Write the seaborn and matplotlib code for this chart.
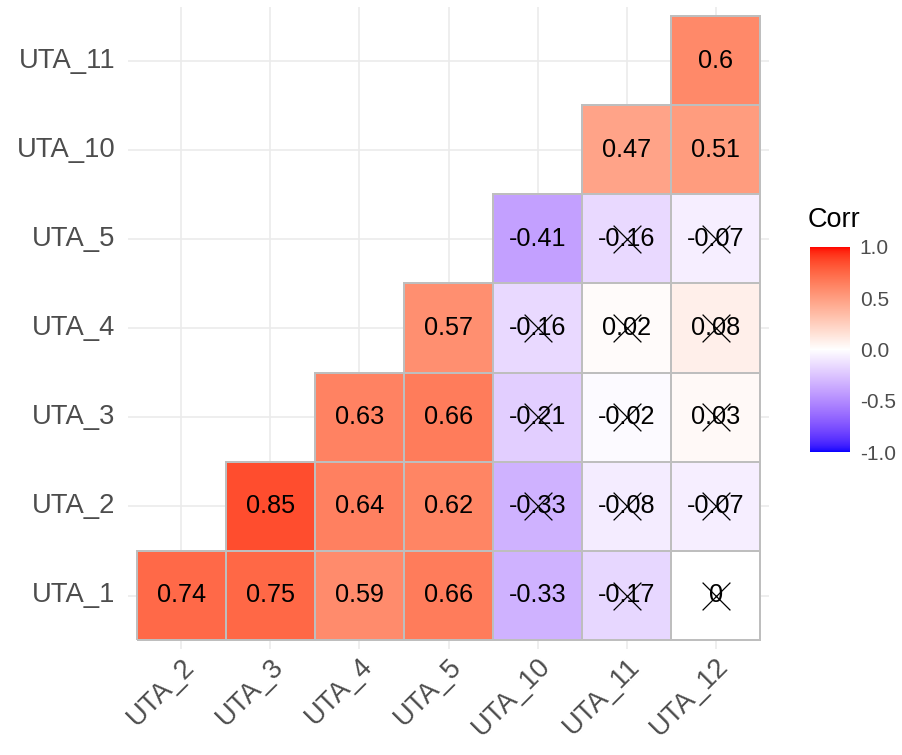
import numpy as np
import pandas as pd
import matplotlib
matplotlib.use("Agg")
import matplotlib.pyplot as plt
from matplotlib.colors import ListedColormap
import seaborn as sns

# ---------------- data ----------------
row_labels = ["UTA_1", "UTA_2", "UTA_3", "UTA_4", "UTA_5", "UTA_10", "UTA_11"]
col_labels = ["UTA_2", "UTA_3", "UTA_4", "UTA_5", "UTA_10", "UTA_11", "UTA_12"]
nan = np.nan
corr_uta1 = [0.74, 0.75, 0.59, 0.66, -0.33, -0.17, 0.00]
corr_uta2 = [nan, 0.85, 0.64, 0.62, -0.33, -0.08, -0.07]
corr_uta3 = [nan, nan, 0.63, 0.66, -0.21, -0.02, 0.03]
corr_uta4 = [nan, nan, nan, 0.57, -0.16, 0.02, 0.08]
corr_uta5 = [nan, nan, nan, nan, -0.41, -0.16, -0.07]
corr_uta10 = [nan, nan, nan, nan, nan, 0.47, 0.51]
corr_uta11 = [nan, nan, nan, nan, nan, nan, 0.60]
# 1 = not significant (crossed out)
insig_uta1 = [0, 0, 0, 0, 0, 1, 1]
insig_uta2 = [0, 0, 0, 0, 1, 1, 1]
insig_uta3 = [0, 0, 0, 0, 1, 1, 1]
insig_uta4 = [0, 0, 0, 0, 1, 1, 1]
insig_uta5 = [0, 0, 0, 0, 0, 1, 1]
insig_uta10 = [0, 0, 0, 0, 0, 0, 0]
insig_uta11 = [0, 0, 0, 0, 0, 0, 0]
cbar_ticks = [-1.0, -0.5, 0.0, 0.5, 1.0]
cbar_ticklabels = ["-1.0", "-0.5", "0.0", "0.5", "1.0"]

corr = pd.DataFrame([corr_uta1, corr_uta2, corr_uta3, corr_uta4, corr_uta5,
                     corr_uta10, corr_uta11], index=row_labels, columns=col_labels)
insig = pd.DataFrame([insig_uta1, insig_uta2, insig_uta3, insig_uta4, insig_uta5,
                      insig_uta10, insig_uta11], index=row_labels, columns=col_labels)

labels = corr.map(lambda v: "" if np.isnan(v) else f"{round(v, 2) + 0.0:g}")

# ---------------- colormap: blue-white-red interpolated in CIELAB ----------------
def srgb_to_lab(rgb):
    rgb = np.asarray(rgb, float)
    lin = np.where(rgb <= 0.04045, rgb / 12.92, ((rgb + 0.055) / 1.055) ** 2.4)
    M = np.array([[0.4124, 0.3576, 0.1805],
                  [0.2126, 0.7152, 0.0722],
                  [0.0193, 0.1192, 0.9505]])
    xyz = M @ lin
    white = np.array([0.95047, 1.0, 1.08883])
    t = xyz / white
    f = np.where(t > (6 / 29) ** 3, np.cbrt(t), t / (3 * (6 / 29) ** 2) + 4 / 29)
    return np.array([116 * f[1] - 16, 500 * (f[0] - f[1]), 200 * (f[1] - f[2])])

def lab_to_srgb(lab):
    L, a, b = lab
    fy = (L + 16) / 116
    fx = fy + a / 500
    fz = fy - b / 200
    f = np.array([fx, fy, fz])
    t = np.where(f > 6 / 29, f ** 3, 3 * (6 / 29) ** 2 * (f - 4 / 29))
    xyz = t * np.array([0.95047, 1.0, 1.08883])
    Minv = np.array([[3.2406, -1.5372, -0.4986],
                     [-0.9689, 1.8758, 0.0415],
                     [0.0557, -0.2040, 1.0570]])
    lin = Minv @ xyz
    lin = np.clip(lin, 0, 1)
    rgb = np.where(lin <= 0.0031308, 12.92 * lin, 1.055 * lin ** (1 / 2.4) - 0.055)
    return np.clip(rgb, 0, 1)

lab_blue = srgb_to_lab([0, 0, 1])
lab_white = srgb_to_lab([1, 1, 1])
lab_red = srgb_to_lab([1, 0, 0])
cols = []
for v in np.linspace(-1, 1, 513):
    if v < 0:
        lab = lab_white + (-v) * (lab_blue - lab_white)
    else:
        lab = lab_white + v * (lab_red - lab_white)
    cols.append(lab_to_srgb(lab))
cmap = ListedColormap(cols)

# ---------------- plot ----------------
sns.set_theme(style="white")
plt.rcParams["font.family"] = ["Liberation Sans", "DejaVu Sans"]

W, H = 902, 755
fig = plt.figure(figsize=(W / 100, H / 100), dpi=100)
ax = fig.add_axes([128 / W, 1 - 649 / H, 641 / W, 642 / H])
cax = fig.add_axes([810 / W, 1 - 452 / H, 40 / W, 205 / H])

sns.heatmap(corr, mask=corr.isna(), cmap=cmap, vmin=-1, vmax=1,
            annot=labels.values, fmt="", annot_kws={"color": "black", "fontsize": 18.2},
            linewidths=1.2, linecolor="#BEBEBE", ax=ax, cbar_ax=cax,
            cbar_kws={"ticks": cbar_ticks})

# tile borders only on drawn (non-masked) tiles
mesh = ax.collections[0]
present = ~corr.isna().values.ravel()
edge = np.array([[0.745, 0.745, 0.745, 1.0] if p else [1, 1, 1, 0.0] for p in present])
mesh.set_edgecolors(edge)

# crosses for non-significant correlations
yy, xx = np.nonzero(insig.values)
ax.scatter(xx + 0.5, yy + 0.5, marker="x", s=400, c="black", linewidths=0.9, zorder=5)

ax.set_xlim(-0.1, len(col_labels) + 0.1)
ax.set_ylim(-0.1, len(row_labels) + 0.1)
ax.set_xlabel("")
ax.set_ylabel("")
ax.grid(True, color="#EBEBEB", linewidth=1.2)
ax.set_axisbelow(True)
for s in ax.spines.values():
    s.set_visible(False)

ax.set_xticks(np.arange(len(col_labels)) + 0.5)
ax.set_yticks(np.arange(len(row_labels)) + 0.5)
ax.set_xticklabels(col_labels, rotation=45, ha="right", va="top",
                   rotation_mode="anchor", fontsize=19.7, color="#4D4D4D")
ax.set_yticklabels(row_labels, rotation=0, fontsize=19.7, color="#4D4D4D")
ax.tick_params(axis="both", length=0)
ax.tick_params(axis="y", pad=9)
ax.tick_params(axis="x", pad=3)

cb = mesh.colorbar
cb.outline.set_visible(False)
cb.set_ticks(cbar_ticks)
cb.set_ticklabels(cbar_ticklabels)
cax.tick_params(axis="y", direction="in", color="white", length=6, width=1,
                left=True, right=True, labelsize=15, labelcolor="#4D4D4D", pad=7)

fig.text(808 / W, 1 - 220 / H, "Corr", ha="left", va="center",
         fontsize=19.5, color="black")

fig.savefig("out.png", dpi=100)
